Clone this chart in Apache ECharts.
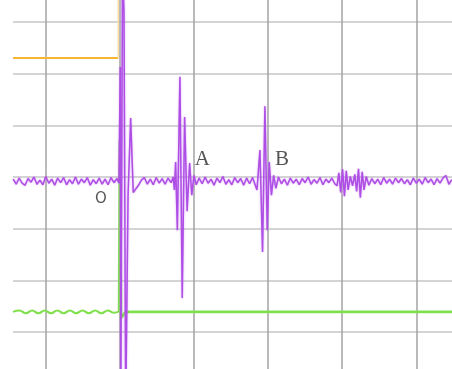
<!DOCTYPE html>
<html>
<head>
<meta charset="utf-8">
<script src="https://cdn.jsdelivr.net/npm/echarts@6/dist/echarts.min.js"></script>
<style>
  html, body { margin: 0; padding: 0; background: #ffffff; }
  #chart { width: 452px; height: 369px; }
</style>
</head>
<body>
<div id="chart"></div>
<script>
// Axis extents (time in µs, 10 µs per division; amplitude in divisions)
const xRange = [-14.43, 44.82];
const yRange = [-3.716, 3.426];
const xTicks = [-10, 0, 10, 20, 30, 40];
const yTicks = [-3, -2, -1, 0, 1, 2, 3];

// Acoustic signal: pre-trigger noise, trigger burst, echoes A and B, late ringing
const signal = [
  [-14.4, -0.04], [-14.0, -0.14], [-13.6, -0.02], [-13.2, -0.12], [-12.8, -0.16],
  [-12.4, -0.03], [-12.0, -0.10], [-11.6, 0.00], [-11.2, -0.14], [-10.8, -0.06],
  [-10.4, -0.15], [-10.0, 0.01], [-9.6, -0.12], [-9.2, -0.04], [-8.8, -0.16],
  [-8.4, -0.02], [-8.0, -0.11], [-7.6, -0.01], [-7.2, -0.15], [-6.8, -0.05],
  [-6.4, -0.13], [-6.0, 0.00], [-5.6, -0.14], [-5.2, -0.04], [-4.8, -0.11],
  [-4.4, -0.01], [-4.0, -0.16], [-3.6, -0.05], [-3.2, -0.13], [-2.8, -0.02],
  [-2.4, -0.14], [-2.0, -0.04], [-1.6, -0.15], [-1.2, -0.01], [-0.8, -0.11],
  [-0.4, -0.03], [-0.13, -0.12],
  [0.05, 2.13], [0.12, -4.5], [0.35, 4.0], [0.55, 3.2], [0.78, -4.5], [1.1, -0.35],
  [1.45, 1.14], [1.8, -0.30], [2.1, -0.24], [2.5, -0.16], [2.9, -0.06],
  [3.3, -0.01], [3.7, -0.14], [4.1, -0.04], [4.5, -0.15], [4.9, -0.01],
  [5.3, -0.12], [5.7, -0.03], [6.1, -0.14], [6.5, -0.02], [6.9, -0.11], [7.2, 0.00],
  [7.35, -0.25], [7.52, 0.29], [7.75, -1.03], [8.10, 1.94], [8.41, -2.34],
  [8.73, 1.16], [9.07, -0.66], [9.41, 0.27], [9.7, -0.35], [10.0, 0.03],
  [10.3, -0.15], [10.7, -0.02], [11.1, -0.13], [11.5, 0.00], [11.9, -0.12],
  [12.3, -0.04], [12.7, -0.16], [13.1, -0.02], [13.5, -0.11], [13.9, 0.01],
  [14.3, -0.14], [14.7, -0.05], [15.1, -0.15], [15.5, -0.01], [15.9, -0.11],
  [16.3, -0.03], [16.7, -0.16], [17.1, -0.02], [17.5, -0.13], [17.9, -0.01],
  [18.2, -0.13],
  [18.5, -0.25], [18.9, 0.52], [19.25, -1.45], [19.57, 1.37], [19.88, -1.03],
  [20.15, 0.29], [20.45, -0.35], [20.75, 0.03], [21.05, -0.22],
  [21.4, 0.00], [21.8, -0.13], [22.2, -0.04], [22.6, -0.16], [23.0, -0.02],
  [23.4, -0.12], [23.8, -0.04], [24.2, -0.15], [24.6, -0.03], [25.0, -0.11],
  [25.4, 0.00], [25.8, -0.14], [26.2, -0.05], [26.6, -0.12], [27.0, -0.01],
  [27.4, -0.15], [27.8, -0.04], [28.2, -0.11], [28.6, -0.02], [29.0, -0.13],
  [29.3, -0.17], [29.55, 0.08], [29.8, -0.30], [30.05, 0.15], [30.3, -0.37],
  [30.55, 0.12], [30.8, -0.25], [31.1, 0.01], [31.4, -0.17], [31.7, 0.05],
  [31.95, -0.28], [32.2, 0.16], [32.45, -0.40], [32.7, 0.10], [32.95, -0.25],
  [33.25, 0.01], [33.6, -0.16], [34.0, -0.03], [34.4, -0.13], [34.8, -0.04],
  [35.2, -0.15], [35.6, -0.01], [36.0, -0.12], [36.4, -0.04], [36.8, -0.14],
  [37.2, -0.02], [37.6, -0.11], [38.0, -0.03], [38.4, -0.13], [38.8, -0.05],
  [39.2, -0.15], [39.6, -0.02], [40.0, -0.12], [40.4, -0.04], [40.8, -0.14],
  [41.2, -0.01], [41.6, -0.11], [42.0, -0.04], [42.4, -0.15], [42.8, -0.03],
  [43.2, -0.12], [43.6, -0.02], [44.0, 0.03], [44.4, -0.14], [44.8, -0.05]
];

// Trigger gate (orange) before it rises off scale
const gateLevel = [[-14.43, 2.303], [-0.22, 2.303]];
const gateRise = [[-0.22, 2.303], [-0.22, 3.6]];

// Reference channel (green): ripple before trigger, steady afterwards
const refBefore = [
  [-14.43, -2.61], [-13.55, -2.585], [-12.7, -2.635], [-11.85, -2.585], [-11.0, -2.635],
  [-10.15, -2.585], [-9.3, -2.635], [-8.45, -2.585], [-7.6, -2.635], [-6.75, -2.585],
  [-5.9, -2.635], [-5.05, -2.585], [-4.2, -2.635], [-3.35, -2.585], [-2.5, -2.635],
  [-1.65, -2.585], [-0.8, -2.625], [-0.1, -2.60]
];
const refAfter = [
  [-0.1, -2.60], [0.0, 0.70], [0.15, -2.73], [0.5, -2.66], [0.8, -2.61], [44.82, -2.61]
];

// Point labels
const marks = [
  { name: 'O', value: [-2.56, -0.426], font: 'DejaVu Sans', size: 15 },
  { name: 'A', value: [11.13, 0.33], font: 'Liberation Serif', size: 21 },
  { name: 'B', value: [21.86, 0.33], font: 'Liberation Serif', size: 21 }
];

const chart = echarts.init(document.getElementById('chart'), null, { renderer: 'canvas' });

chart.setOption({
  animation: false,
  backgroundColor: '#ffffff',
  grid: { left: 13, right: 0, top: 0, bottom: 0 },
  xAxis: {
    type: 'value',
    min: xRange[0],
    max: xRange[1],
    axisLine: { show: false },
    axisTick: { show: false, customValues: xTicks },
    axisLabel: { show: false, customValues: xTicks },
    splitLine: { show: true, lineStyle: { color: '#a3a3a3', width: 1.5 } }
  },
  yAxis: {
    type: 'value',
    min: yRange[0],
    max: yRange[1],
    axisLine: { show: false },
    axisTick: { show: false, customValues: yTicks },
    axisLabel: { show: false, customValues: yTicks },
    splitLine: { show: true, lineStyle: { color: '#c6c6c6', width: 1.5 } }
  },
  series: [
    {
      type: 'line', data: gateLevel, showSymbol: false, silent: true,
      lineStyle: { color: '#f6b631', width: 2.2 }
    },
    {
      type: 'line', data: gateRise, showSymbol: false, silent: true,
      lineStyle: { color: '#f8dfa0', width: 1.5 }
    },
    {
      type: 'line', data: refBefore, showSymbol: false, silent: true, smooth: true,
      lineStyle: { color: '#7fe04c', width: 2 }
    },
    {
      type: 'line', data: refAfter, showSymbol: false, silent: true,
      lineStyle: { color: '#7fe04c', width: 2.8 }
    },
    {
      type: 'line', data: signal, showSymbol: false, silent: true,
      lineStyle: {
        color: '#ae4ee4', width: 1.5,
        shadowColor: 'rgba(200, 120, 245, 0.7)', shadowBlur: 2
      }
    },
    {
      type: 'scatter', symbolSize: 0, silent: true,
      data: marks.map(m => ({
        name: m.name,
        value: m.value,
        label: {
          show: true, position: 'inside', formatter: '{b}',
          fontFamily: m.font, fontSize: m.size, color: '#2a2a2a'
        }
      }))
    }
  ]
});
</script>
</body>
</html>
